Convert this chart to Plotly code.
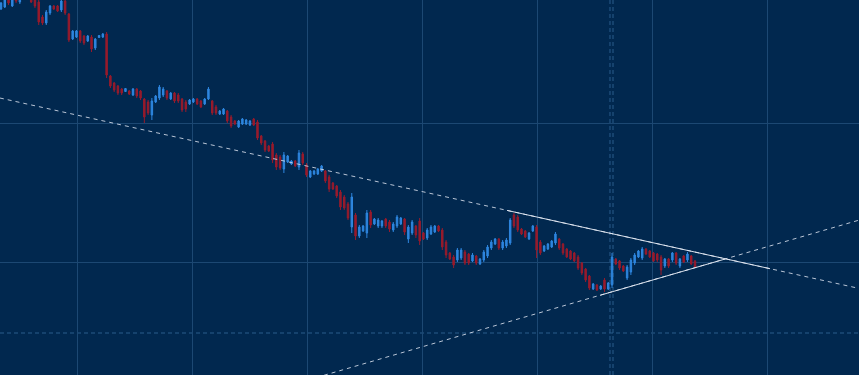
import plotly.graph_objects as go

# OHLC values (chart's own price units)
highs = [373,377,380,378, 382,380, 383,385,380,377,
         375,360,365,370,370,370,375,375,
         362,345,345,345,340,340,340,337,340,342,
         343,300,293,290,287,287,285,287,287,285,
         277,275,277,280,290,288,285,283,283,282,277,275, 276,
         277,277,275,277,288,
         275,270,265,267,265,260,255,255,257, 256,
         255,257,255,240,235,230,233,222,220,223,
         220,215,215,225,223,212,205,205,207,210,
         205,200,193,190,185,180,173,182,162,150,150,
         165,165,157,157,155,157,155,153,160,158,
         157,150,155,150,157,143,147,150,150,150,
         147,135,123,120,127,127,125,122,122,120,117,
         125,130,135,137,137,135,137,157,162,160,147,145,143,
         150,150,135,130,132,135,143,137,132,127,125,123,120,113,107,100,92, 91,
         90,97,93,122,117,115,110,110,117,122,
         125,128,127,125,123,122,
         120,117,117,123,123,117,
         120,123,120,115]
lows = [365,367,370,368, 372,371, 375,377,372,367,
        350,350,350,360,365,363,363,360,
        333,335,337,332,330,333,323,325,337,337,
        297,287,283,280,280,283,280,279,277,275,
        252,260,255,272,275,278,275,275,272,272,263,263, 270,
        272,270,267,270,275,
        260,260,260,260,252,247,250,247,250, 250,
        249,249,235,230,223,223,212,205,205,202,
        212,210,208,205,210,198,197,200,200,203,
        192,183,185,177,165,165,155,142,135,137,143,
        137,147,150,147,147,147,143,143,147,150,
        140,132,140,137,130,135,135,140,142,143,
        125,117,115,107,113,115,110,110,113,110,110,
        113,117,125,130,125,125,127,130,147,143,140,137,135,
        143,117,120,123,125,127,130,125,120,117,115,113,105,100,93,85,85, 84,
        85,83,85,87,110,105,103,95,100,110,
        117,115,120,117,113,113,
        100,107,107,113,110,107,
        112,113,110,107]
opens = [366,368,378,369, 380,373, 381,378,379,375,
         373,358,352,362,369,369,365,374,
         361,336,338,344,339,334,338,327,337.5,338,
         341,299,292,289,286,283.5,284,280,286,284,
         276,273,260,273,277,280,284,276,282,280,276,273, 271,
         273,276,274,271,276,
         274,268,261,261,264,258,254,248,251, 251,
         250,256,253,239,234,229,231,220,218,206,
         213,211,214,208,221,210,198,201,201,204,
         204,198,192,189,183,178,171,148,160,139,144,
         142,163,151,149,149,156,153,145,149,151,
         156,136,142,149,154,142,137,141,143,149,
         145,133,122,118,115,117,123,121,114,119,111,
         115,119,127,131,136,127,129,132,160,158,146,144,136,
         144,148,133,124,126,128,132,136,131,126,124,122,118,112,106,99,86, 90,
         86,95,86,90,116,114,109,97,103,112,
         118,117,126,124,122,121,
         118,109,116,115,122,109,
         119,115,119,114]
closes = [372,375,372,376, 374,379, 377,384,373,369,
          353,352,363,369,366,364,374,362,
          335,344,344,334,332,339,326,336,339.5,341,
          300,289,285,282,282,286.5,281,286,279,277,
          258,262,274,279,288,286,277,282,274,274,265,266, 275,
          276,271,268,276,286,
          262,262,264,266,254,249,251,254,256, 255,
          254,250,237,232,225,224,215,208,207,220,
          219,214,209,222,212,200,204,204,206,209,
          194,186,186,179,168,167,157,178,139,148,149,
          162,150,156,155,154,149,146,151,158,157,
          143,148,153,140,134,136,145,148,149,144,
          128,120,116,110,125,125,112,112,120,112,116,
          123,128,133,136,127,133,135,155,149,145,141,138,142,
          149,125,122,129,131,134,141,127,122,118,116,114,107,102,95,87,91, 85,
          89,86,92,118,111,107,104,108,115,120,
          124,126,121,118,114,115,
          105,116,109,122,112,116,
          113,121,111,108]
bars = list(range(len(closes)))

# Trend lines (bar index, price)
upper_x = [-0.3, 227.6]
upper_y = [277.0, 86.5]
upper_solid_x = [134.16, 203.89]
upper_solid_y = [164.6, 106.3]
lower_x = [79.5, 227.6]
lower_y = [-7.0, 155.0]
lower_solid_x = [158.82, 192.09]
lower_solid_y = [79.7, 116.1]
level_price = 42.0
marker_bars = [161.46, 162.26]

x_range = [-0.265, 227.48]
y_range = [0, 375]

BG = "#01284f"
GRID = "#1c4873"
RED = "#981b2c"
BLUE = "#2e86df"

fig = go.Figure()
fig.add_trace(go.Candlestick(
    x=bars, open=opens, high=highs, low=lows, close=closes,
    increasing=dict(line=dict(color=BLUE, width=1), fillcolor=BLUE),
    decreasing=dict(line=dict(color=RED, width=1), fillcolor=RED),
    whiskerwidth=0, showlegend=False, hoverinfo="skip"))

dash_col = "rgba(205,214,228,0.9)"
solid_col = "rgba(228,233,242,0.95)"
fig.add_trace(go.Scatter(x=upper_x, y=upper_y, mode="lines",
                         line=dict(color=dash_col, width=1, dash="4px,4px"),
                         showlegend=False, hoverinfo="skip"))
fig.add_trace(go.Scatter(x=lower_x, y=lower_y, mode="lines",
                         line=dict(color=dash_col, width=1, dash="4px,4px"),
                         showlegend=False, hoverinfo="skip"))
fig.add_trace(go.Scatter(x=upper_solid_x, y=upper_solid_y, mode="lines",
                         line=dict(color=solid_col, width=1),
                         showlegend=False, hoverinfo="skip"))
fig.add_trace(go.Scatter(x=lower_solid_x, y=lower_solid_y, mode="lines",
                         line=dict(color=solid_col, width=1),
                         showlegend=False, hoverinfo="skip"))

level_col = "#2a5c8c"
fig.add_shape(type="line", xref="x", yref="y", x0=x_range[0], x1=x_range[1],
              y0=level_price, y1=level_price, layer="below",
              line=dict(color=level_col, width=1, dash="4px,3px"))
for mb in marker_bars:
    fig.add_shape(type="line", xref="x", yref="y", x0=mb, x1=mb,
                  y0=y_range[0], y1=y_range[1], layer="below",
                  line=dict(color=level_col, width=1, dash="4px,3px"))

fig.update_layout(
    width=859, height=375, margin=dict(l=0, r=0, t=0, b=0),
    paper_bgcolor=BG, plot_bgcolor=BG, boxgap=0.45,
    xaxis=dict(range=x_range, showticklabels=False, showgrid=True, gridcolor=GRID,
               gridwidth=1, tick0=20.15, dtick=30.49, zeroline=False, showline=False,
               rangeslider=dict(visible=False), fixedrange=True, ticks=""),
    yaxis=dict(range=y_range, showticklabels=False, showgrid=True, gridcolor=GRID,
               gridwidth=1, tick0=113, dtick=139, zeroline=False, showline=False,
               fixedrange=True, ticks=""),
    showlegend=False,
)

fig.write_html("out.html", config={"displayModeBar": False},
               post_script="document.body.style.margin='0';document.body.style.background='" + BG + "';")
